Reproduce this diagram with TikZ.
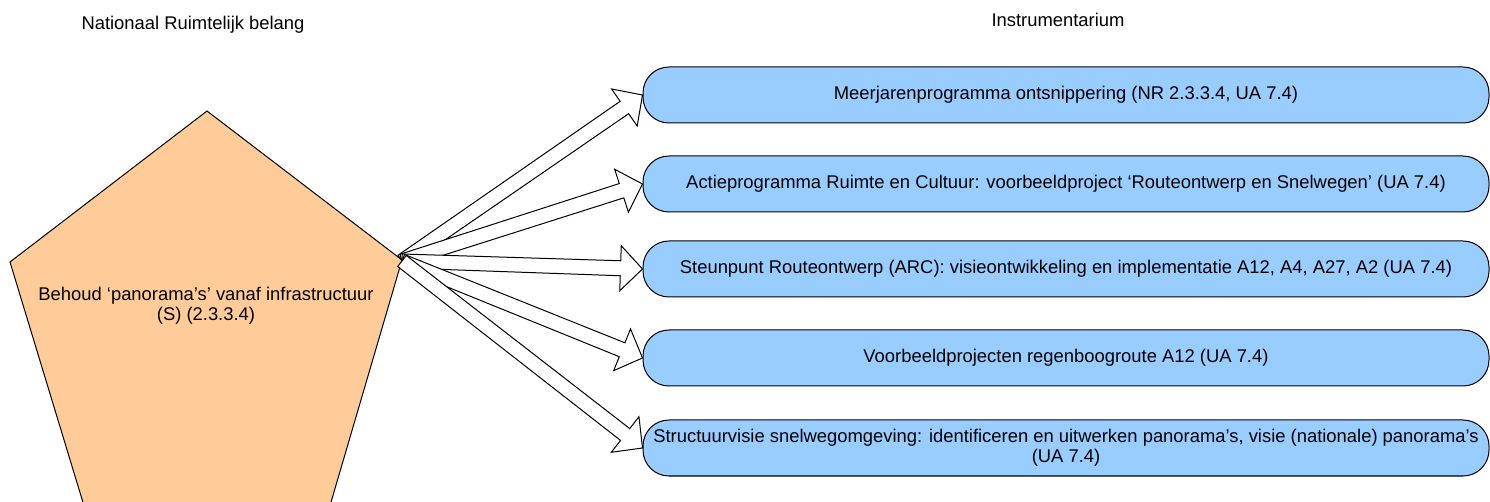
\documentclass[tikz,border=0pt]{standalone}
\usepackage{fontspec}
\setmainfont{Liberation Sans}
\usetikzlibrary{calc}
\definecolor{orange_fill}{RGB}{255, 204, 153}
\definecolor{blue_fill}{RGB}{153, 204, 255}

\tikzset{
    boxnode/.style={shape=rectangle, draw=black, fill=blue_fill, rounded corners=13pt,
        minimum width=423pt, minimum height=28pt, inner sep=2pt, align=center},
    fatarrow/.style={draw=black, fill=white, line join=miter,
        to path={let \p1=(\tikztostart), \p2=(\tikztotarget),
            \n1={atan2(\y2-\y1,\x2-\x1)}, \n2={veclen(\x2-\x1,\y2-\y1)} in
            [shift={(\p1)}, rotate={\n1}]
            (0pt,3.5pt) -- ({\n2*1pt-11pt},3.75pt) -- ({\n2*1pt-11pt},11.25pt) -- ({\n2*1pt},0pt)
            -- ({\n2*1pt-11pt},-11.25pt) -- ({\n2*1pt-11pt},-3.75pt) -- (0pt,-3.5pt) -- cycle}}
}

\begin{document}
\begin{tikzpicture}[x=0.5pt, y=-0.5pt, line width=0.5pt, font=\fontsize{9.2}{10}\selectfont]
    \useasboundingbox (0,0) rectangle (1490,502);
    \clip (0,0) rectangle (1490,502);

        \node[anchor=base] (nrb) at (193,30) {Nationaal Ruimtelijk belang};
        \node[anchor=base] (instr) at (1058,27) {Instrumentarium};

        % pentagon
        \draw[fill=orange_fill] (207,111) -- (402,260) -- (329,509) -- (85,509) -- (10,262) -- cycle;
        \coordinate (tip) at (402,261);
        \node[align=center] (behoud) at (206,306) {Behoud ‘panorama’s’ vanaf infrastructuur\\(S) (2.3.3.4)};

        \node[boxnode] (b1) at (1066,95) {Meerjarenprogramma ontsnippering (NR 2.3.3.4, UA 7.4)};
        \node[boxnode] (b2) at (1066,184) {Actieprogramma Ruimte en Cultuur: voorbeeldproject ‘Routeontwerp en Snelwegen’ (UA 7.4)};
        \node[boxnode] (b3) at (1066,269) {Steunpunt Routeontwerp (ARC): visieontwikkeling en implementatie A12, A4, A27, A2 (UA 7.4)};
        \node[boxnode] (b4) at (1066,358) {Voorbeeldprojecten regenboogroute A12 (UA 7.4)};
        \node[boxnode] (b5) at (1066,448) {Structuurvisie snelwegomgeving: identificeren en uitwerken panorama’s, visie (nationale) panorama’s\\(UA 7.4)};

    \begin{scope}
        \foreach \b in {b1,b2,b3,b4,b5}
            \draw[fatarrow] (tip) to (\b.west);
    \end{scope}

\end{tikzpicture}
\end{document}
